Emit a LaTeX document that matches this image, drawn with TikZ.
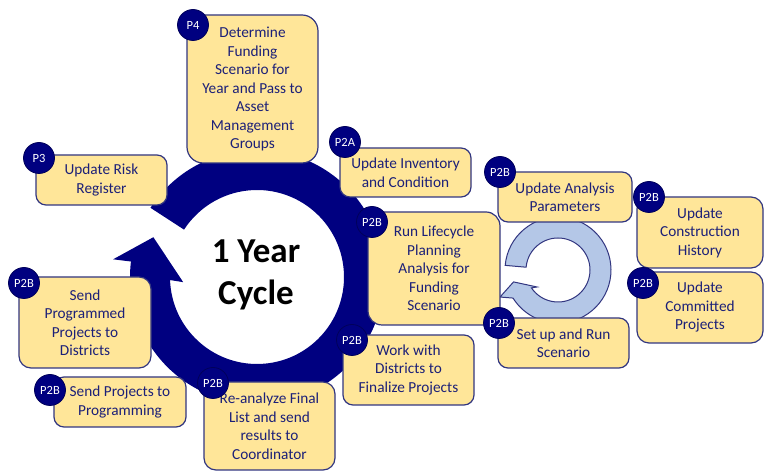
\documentclass[tikz,border=0pt]{standalone}
\usepackage{fontspec}
\setmainfont{Carlito}
\definecolor{main}{RGB}{0,0,128}
\definecolor{second}{RGB}{255,230,153}
\definecolor{third}{RGB}{50,54,128}
\definecolor{fourth}{RGB}{28,32,120}
\definecolor{fifth}{RGB}{180,199,231}
\usepackage{tikz}
\usetikzlibrary{
	arrows.meta,
	positioning,
	calc
}
\tikzset{
  % ring
	cstring/.style    ={fill=main},                            % big cycle arrow
	cstringe/.style   ={fill=fifth,draw=third,line width=1pt}, % small cycle arrow
  % node
	cstbox/.style     ={fill=second,draw=third,text=fourth,line width=1.2pt,rounded corners=10pt,
	                    align=center,inner sep=0pt,font=\fontsize{15.3}{18.5}\selectfont},
	cstbadge/.style   ={circle,fill=main,draw=main!70!black,text=white,minimum size=31pt,
	                    inner sep=0pt,line width=0.8pt,font=\fontsize{12.5}{12.5}\selectfont},
	csttitle/.style   ={align=center,font=\fontsize{35}{42}\selectfont\bfseries}
}

\begin{document}
\begin{tikzpicture}[x=1pt,y=1pt]
			\useasboundingbox (0,0) rectangle (764,471);
			\begin{scope}[shift={(257,194)}]
				\fill[cstring] (147:127pt) arc[start angle=147,end angle=-187,radius=127pt]
					-- (173:145pt) -- (159:111pt) -- (184:74pt) -- (182:87pt)
					arc[start angle=-178,end angle=147,radius=87pt] -- cycle;
			\end{scope}
			\begin{scope}[shift={(558,201)}]
				\filldraw[cstringe] (175:53pt) arc[start angle=175,end angle=-148,radius=53pt]
					-- (205:64pt) -- (195:46pt) -- (219:27pt) -- (214:32pt)
					arc[start angle=-146,end angle=175,radius=32pt] -- cycle;
			\end{scope}
			\node[csttitle] (title) at (256,196) {1 Year\\Cycle};
			% boxes
			\node[cstbox,minimum width=131pt,minimum height=148pt,rounded corners=16pt] (p4) at (252.5,382)
				{Determine\\Funding\\Scenario for\\Year and Pass to\\Asset\\Management\\Groups};
			\node[cstbox,minimum width=131pt,minimum height=49pt] (p2a) at (405.5,298.5) {Update Inventory\\and Condition};
			\node[cstbox,minimum width=131pt,minimum height=50pt] (p3) at (101.5,291) {Update Risk\\Register};
			\node[cstbox,minimum width=132pt,minimum height=113pt,rounded corners=14pt] (run) at (434,202.5)
				{Run Lifecycle\\Planning\\Analysis for\\Funding\\Scenario};
			\node[cstbox,minimum width=134pt,minimum height=50pt] (param) at (565,274) {Update Analysis\\Parameters};
			\node[cstbox,minimum width=126pt,minimum height=71pt,rounded corners=12pt] (hist) at (700,238.5) {Update\\Construction\\History};
			\node[cstbox,minimum width=126pt,minimum height=71pt,rounded corners=12pt] (commit) at (700,163.5) {Update\\Committed\\Projects};
			\node[cstbox,minimum width=131pt,minimum height=50pt] (setup) at (563.5,128) {Set up and Run\\Scenario};
			\node[cstbox,minimum width=131pt,minimum height=70pt] (work) at (408.5,101) {Work with\\Districts to\\Finalize Projects};
			\node[cstbox,minimum width=131pt,minimum height=88pt,rounded corners=12pt] (reanalyze) at (269.5,45)
				{Re-analyze Final\\List and send\\results to\\Coordinator};
			\node[cstbox,minimum width=132pt,minimum height=91pt,rounded corners=12pt] (sendprog) at (85,148.5)
				{Send\\Programmed\\Projects to\\Districts};
			\node[cstbox,minimum width=132pt,minimum height=50pt] (sendproj) at (120,69) {Send Projects to\\Programming};
			% badges
			\node[cstbadge] (b-p4) at (193,446) {P4};
			\node[cstbadge] (b-p2a) at (345,329) {P2A};
			\node[cstbadge] (b-p3) at (39,313) {P3};
			\node[cstbadge] (b-run) at (372,249) {P2B};
			\node[cstbadge] (b-param) at (500,299) {P2B};
			\node[cstbadge] (b-hist) at (649,274) {P2B};
			\node[cstbadge] (b-commit) at (643,188) {P2B};
			\node[cstbadge] (b-setup) at (499,148) {P2B};
			\node[cstbadge] (b-work) at (352,131) {P2B};
			\node[cstbadge] (b-reanalyze) at (213,88) {P2B};
			\node[cstbadge] (b-sendprog) at (24,188) {P2B};
			\node[cstbadge] (b-sendproj) at (50,81) {P2B};
		\end{tikzpicture}
\end{document}
